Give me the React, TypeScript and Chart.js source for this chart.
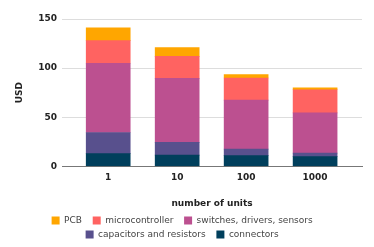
import React, { useEffect, useRef } from "react";
import { Chart, registerables } from "chart.js";

Chart.register(...registerables);

const categories = ["1", "10", "100", "1000"];
const pcb = [13, 9, 3.5, 2];
const microcontroller = [23, 22.5, 22.5, 23.5];
const switchesDriversSensors = [70.5, 65, 50, 41];
const capacitorsResistors = [21.5, 13, 6.5, 3.5];
const connectors = [13, 11.5, 11, 10];
const yTicks = [0, 50, 100, 150];

const FONT = "'DejaVu Sans', Verdana, sans-serif";

export default function App() {
  const ref = useRef<HTMLCanvasElement | null>(null);
  useEffect(() => {
    if (!ref.current) return;
    const pts = (arr: number[]) => arr.map((v, i) => ({ x: i, y: v }));
    const mk = (label: string, arr: number[], color: string) => ({
      label,
      data: pts(arr),
      backgroundColor: color,
      borderWidth: 0,
      barThickness: 44,
    });
    const chart = new Chart(ref.current, {
      type: "bar",
      data: {
        datasets: [
          mk("connectors", connectors, "#003F5C"),
          mk("capacitors and resistors", capacitorsResistors, "#58508D"),
          mk("switches, drivers, sensors", switchesDriversSensors, "#BC5090"),
          mk("microcontroller", microcontroller, "#FF6361"),
          mk("PCB", pcb, "#FFA600"),
        ] as any,
      },
      options: {
        animation: false,
        responsive: false,
        maintainAspectRatio: false,
        layout: { padding: { left: 8, right: 12, top: 19, bottom: -2 } },
        plugins: {
          tooltip: { enabled: false },
          legend: {
            position: "bottom",
            reverse: true,
            labels: {
              boxWidth: 8,
              boxHeight: 8,
              padding: 5,
              color: "#444",
              font: { family: FONT, size: 9 },
              generateLabels: (c: any) => {
                const items = Chart.defaults.plugins.legend.labels.generateLabels(c);
                return items.map((it: any) => ({ ...it, text: it.text + "  " }));
              },
            },
          },
        },
        scales: {
          x: {
            type: "linear",
            stacked: true,
            offset: false,
            min: -0.67,
            max: 3.68,
            grid: { display: false, drawTicks: false },
            border: { display: true, color: "#777", width: 1 },
            afterBuildTicks: (s: any) => {
              s.ticks = categories.map((_, i) => ({ value: i }));
            },
            ticks: {
              color: "#222",
              font: { family: FONT, size: 9, weight: "bold" },
              callback: (v: any) => categories[v as number] ?? "",
              padding: 6,
              maxRotation: 0,
            },
            title: {
              display: true,
              text: "number of units",
              color: "#222",
              font: { family: FONT, size: 9, weight: "bold" },
              padding: { top: 9, bottom: 2 },
            },
          },
          y: {
            stacked: true,
            min: 0,
            max: 150,
            afterBuildTicks: (s: any) => {
              s.ticks = yTicks.map((v) => ({ value: v }));
            },
            grid: { color: "#ddd", drawTicks: false },
            border: { display: false },
            ticks: {
              color: "#222",
              font: { family: FONT, size: 9, weight: "bold" },
              padding: 5,
            },
            title: {
              display: true,
              text: "USD",
              color: "#222",
              font: { family: FONT, size: 9, weight: "bold" },
              padding: { top: 6, bottom: 6 },
            },
            afterFit: (s: any) => {
              s.width = 54;
            },
          },
        },
      } as any,
    });
    return () => chart.destroy();
  }, []);
  return (
    <div style={{ position: "fixed", left: 0, top: 0, width: 374, height: 247, background: "#fff" }}>
      <canvas ref={ref} width={374} height={247} style={{ width: 374, height: 247 }} />
    </div>
  );
}
